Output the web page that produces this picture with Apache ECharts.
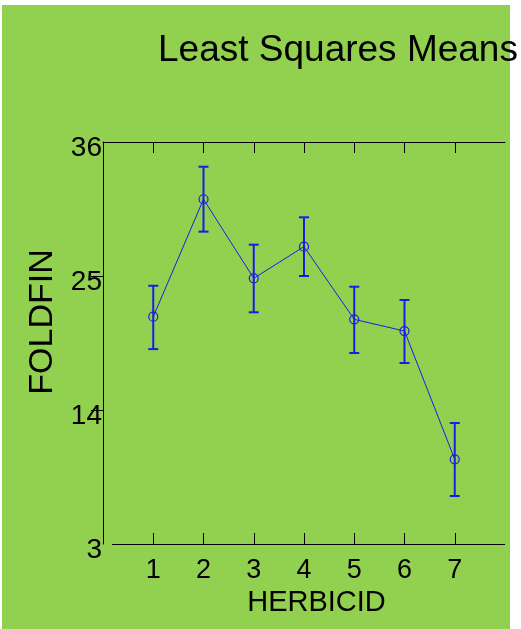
<!DOCTYPE html>
<html>
<head>
<meta charset="utf-8">
<script src="https://cdn.jsdelivr.net/npm/echarts@6/dist/echarts.min.js"></script>
<style>
  html, body { margin: 0; padding: 0; background: #ffffff; }
  #bg { position: absolute; left: 2px; top: 5px; width: 508px; height: 624px; background: #92D050; }
  #chart { position: absolute; left: 0; top: 0; width: 521px; height: 629px; }
</style>
</head>
<body>
<div id="bg"></div>
<div id="chart"></div>
<script>
// ---- Data ----
const categories = [1, 2, 3, 4, 5, 6, 7];
const lsMeans    = [21.66, 31.30, 24.81, 27.41, 21.44, 20.48, 9.95];
const upperLimit = [24.20, 33.97, 27.57, 29.82, 24.12, 23.03, 12.93];
const lowerLimit = [19.00, 28.64, 22.02, 25.00, 18.68, 17.86, 6.94];
const yTicks     = [3, 14, 25, 36];

const titleText = 'Least Squares Means';
const xName = 'HERBICID';
const yName = 'FOLDFIN';

const FONT = '"Liberation Sans", Arial, sans-serif';
const BLUE = '#1c1ce6';

const chart = echarts.init(document.getElementById('chart'), null, { renderer: 'canvas' });

const meanData = categories.map((c, i) => [c, lsMeans[i]]);
const errData = categories.map((c, i) => [c, lowerLimit[i], upperLimit[i]]);

const option = {
  backgroundColor: 'transparent',
  animation: false,
  title: {
    text: titleText,
    left: 153,
    top: 27,
    textStyle: { fontFamily: FONT, fontSize: 37, fontWeight: 'normal', color: '#000' }
  },
  grid: { left: 103, right: 16, top: 142, bottom: 85, containLabel: false },
  xAxis: [
    {
      type: 'value', position: 'bottom', min: 0, max: 8, interval: 1,
      axisLine: { show: false },
      axisTick: { show: true, inside: true, length: 11, customValues: categories, lineStyle: { color: '#000', width: 1 } },
      axisLabel: { show: true, customValues: categories, fontFamily: FONT, fontSize: 27, color: '#000', margin: 13 },
      splitLine: { show: false },
      name: xName, nameLocation: 'middle', nameGap: 40,
      nameTextStyle: { fontFamily: FONT, fontSize: 29, color: '#000', padding: [0, 0, 0, 25] }
    },
    {
      type: 'value', position: 'top', min: 0, max: 8, interval: 1,
      axisLine: { show: true, lineStyle: { color: '#000', width: 1 } },
      axisTick: { show: true, inside: true, length: 11, customValues: categories, lineStyle: { color: '#000', width: 1 } },
      axisLabel: { show: false },
      splitLine: { show: false }
    }
  ],
  yAxis: [
    {
      type: 'value', position: 'left', min: 3, max: 36, interval: 11,
      axisLine: { show: false },
      axisTick: { show: false },
      axisLabel: { show: true, customValues: yTicks, fontFamily: FONT, fontSize: 28, color: '#000', margin: 1,
                   verticalAlign: 'top', lineHeight: 12 },
      splitLine: { show: false },
      name: yName, nameLocation: 'middle', nameGap: 43, nameRotate: 90,
      nameTextStyle: { fontFamily: FONT, fontSize: 34, color: '#000', padding: [0, 0, 0, 42] }
    },
    {
      type: 'value', position: 'right', min: 3, max: 36, interval: 11,
      axisLine: { show: true, lineStyle: { color: '#000', width: 1 } },
      axisTick: { show: true, inside: true, length: 12, customValues: [14, 25], lineStyle: { color: '#000', width: 1 } },
      axisLabel: { show: false },
      splitLine: { show: false }
    }
  ],
  series: [
    {
      type: 'custom',
      xAxisIndex: 0, yAxisIndex: 0,
      data: errData,
      silent: true,
      z: 3,
      renderItem: function (params, api) {
        const x = api.value(0);
        const lo = api.coord([x, api.value(1)]);
        const hi = api.coord([x, api.value(2)]);
        const hw = 5;
        const st = { stroke: BLUE, lineWidth: 2 };
        return {
          type: 'group',
          children: [
            { type: 'line', shape: { x1: lo[0], y1: lo[1], x2: hi[0], y2: hi[1] }, style: st },
            { type: 'line', shape: { x1: lo[0] - hw, y1: lo[1], x2: lo[0] + hw, y2: lo[1] }, style: st },
            { type: 'line', shape: { x1: hi[0] - hw, y1: hi[1], x2: hi[0] + hw, y2: hi[1] }, style: st }
          ]
        };
      }
    },
    {
      type: 'line',
      xAxisIndex: 0, yAxisIndex: 0,
      data: meanData,
      symbol: 'circle',
      symbolSize: 9,
      itemStyle: { color: 'transparent', borderColor: BLUE, borderWidth: 1.2 },
      lineStyle: { color: BLUE, width: 1 },
      silent: true,
      z: 4,
      markLine: {
        silent: true,
        symbol: 'none',
        label: { show: false },
        lineStyle: { color: '#000', width: 1, type: 'solid' },
        data: [
          [{ coord: [0, 4.06] }, { coord: [0, 34.03] }],
          [{ coord: [0.18, 3] }, { coord: [8, 3] }]
        ]
      }
    }
  ]
};

chart.setOption(option);
</script>
</body>
</html>
